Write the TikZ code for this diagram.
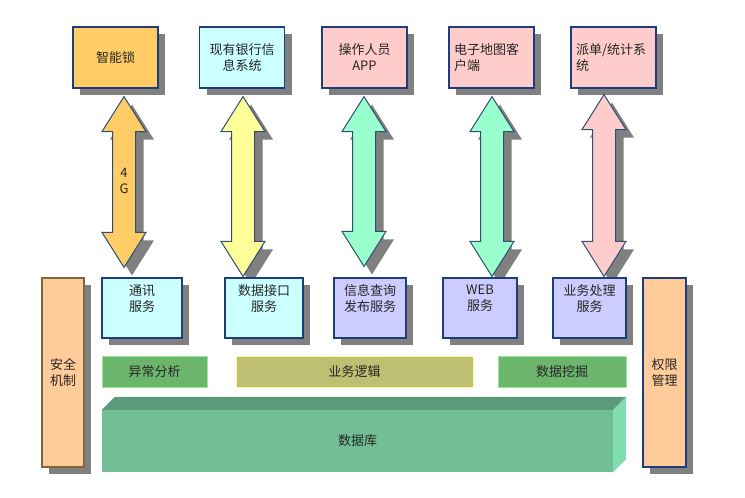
\documentclass[tikz,border=0pt]{standalone}
\usepackage{fontspec}
\newfontfamily\cjkfont{Noto Sans CJK SC}
\usepackage{tikz}
\usetikzlibrary{positioning,calc,shadows}

\definecolor{lockc}{HTML}{FFCC66}
\definecolor{cyanc}{HTML}{CCFFFF}
\definecolor{pinkc}{HTML}{FFCCCC}
\definecolor{yelc}{HTML}{FFFF99}
\definecolor{mintc}{HTML}{99FFCC}
\definecolor{lavc}{HTML}{CCCCFF}
\definecolor{peachc}{HTML}{FFCC99}
\definecolor{greenc}{HTML}{6CB56C}
\definecolor{greenedge}{HTML}{9AE69A}
\definecolor{olivec}{HTML}{BFBF73}
\definecolor{oliveedge}{HTML}{FFFF99}
\definecolor{dbfrontc}{HTML}{72BF96}
\definecolor{dbtopc}{HTML}{5C9A7C}
\definecolor{dbsidec}{HTML}{80DEB0}
\definecolor{edgeblue}{HTML}{1F3D7A}
\definecolor{arrowedge}{HTML}{2E4E73}
\definecolor{brownedge}{HTML}{7A6A35}
\definecolor{shadowc}{HTML}{808080}

% double arrow between two points on one vertical
\newcommand{\bigarrow}[3]{%
  \draw[bigarr, fill=#3] (#1) -- ($(#1)+(22,35)$) -- ($(#1)+(11.5,35)$)
    -- ($(#2)+(11.5,-35)$) -- ($(#2)+(22,-35)$) -- (#2)
    -- ($(#2)+(-22,-35)$) -- ($(#2)+(-11.5,-35)$)
    -- ($(#1)+(-11.5,35)$) -- ($(#1)+(-22,35)$) -- cycle;}

\begin{document}
\begin{tikzpicture}[x=1pt, y=-1pt,
    txt/.style={font=\cjkfont\fontsize{13}{16}\selectfont, text=black!85},
    shad/.style={drop shadow={shadow xshift=7pt, shadow yshift=-7pt,
                 opacity=1, fill=shadowc}},
    box/.style={txt, shad, draw=edgeblue, line width=1.2pt, fill=#1,
                text width=75pt, inner sep=5pt, minimum height=61pt, align=center},
    svc/.style={shad, draw=edgeblue, line width=1.2pt, fill=#1, minimum height=60pt},
    svctxt/.style={txt, align=center, inner sep=0pt},
    pillar/.style={txt, shad, line width=1.2pt, fill=peachc, minimum width=42pt,
                   minimum height=189pt, align=center},
    bar/.style={txt, fill=#1, minimum height=31pt, line width=1pt},
    bigarr/.style={draw=arrowedge, line width=1pt, line join=miter,
                   drop shadow={shadow xshift=8pt, shadow yshift=-8pt,
                   opacity=1, fill=shadowc}},
  ]
  \useasboundingbox (0,0) rectangle (745,498);

  % client systems
  \node[box=lockc] (lock) at (115.5,57.5) {智能锁};
  \node[box=cyanc] (bank) at (242,57.5) {现有银行信\\息系统};
  \node[box=pinkc] (app) at (364.5,57.5) {操作人员\\APP};
  \node[box=pinkc, align=left] (map) at (491.5,57.5) {电子地图客\\户端};
  \node[box=pinkc, align=left] (dispatch) at (613.5,57.5) {派单/统计系\\统};

  % service layer boxes
  \node[svc=cyanc, minimum width=80pt] (comm) at (142,308) {};
  \node[svc=cyanc, minimum width=78pt] (dataif) at (264,308) {};
  \node[svc=lavc, minimum width=72pt] (query) at (370,308) {};
  \node[svc=lavc, minimum width=74pt] (web) at (480,308) {};
  \node[svc=lavc, minimum width=73pt] (biz) at (589.5,308) {};

  % arrow end points
  \coordinate (a1t) at ($(lock.south)+(8.5,8)$);
  \coordinate (a1b) at ($(comm.north)+(-18,-10)$);
  \coordinate (a2t) at ($(bank.south)+(1,8)$);
  \coordinate (a2b) at ($(dataif.north)+(-21,-1)$);
  \coordinate (a3t) at ($(app.south)+(-0.5,8)$);
  \coordinate (a3b) at ($(query.north)+(-6,-11)$);
  \coordinate (a4t) at ($(map.south)+(0.5,8)$);
  \coordinate (a4b) at ($(web.north)+(12,-1)$);
  \coordinate (a5t) at ($(dispatch.south)+(-9.5,6)$);
  \coordinate (a5b) at ($(biz.north)+(14.5,-1)$);

  \bigarrow{a1t}{a1b}{lockc}
  \bigarrow{a2t}{a2b}{yelc}
  \bigarrow{a3t}{a3b}{mintc}
  \bigarrow{a4t}{a4b}{mintc}
  \bigarrow{a5t}{a5b}{pinkc}
  \node[txt, align=center, inner sep=0pt] (g4) at (124,181) {4\\G};

  % redraw service boxes over arrow shadows
  \node[svc=cyanc, minimum width=80pt] (comm) at (142,308) {};
  \node[svc=cyanc, minimum width=78pt] (dataif) at (264,308) {};
  \node[svc=lavc, minimum width=72pt] (query) at (370,308) {};
  \node[svc=lavc, minimum width=74pt] (web) at (480,308) {};
  \node[svc=lavc, minimum width=73pt] (biz) at (589.5,308) {};
  \node[svctxt, below=7pt of comm.north] (comm-t) {通讯\\服务};
  \node[svctxt, below=7pt of dataif.north] (dataif-t) {数据接口\\服务};
  \node[svctxt, below=7pt of query.north] (query-t) {信息查询\\发布服务};
  \node[svctxt, below=7pt of web.north] (web-t) {WEB\\服务};
  \node[svctxt, below=7pt of biz.north] (biz-t) {业务处理\\服务};

  % side pillars
  \node[pillar, draw=brownedge] (safe) at (63,372.5) {安全\\机制};
  \node[pillar, draw=edgeblue, minimum width=43pt] (auth) at (664.5,372.5) {权限\\管理};

  % logic bars
  \node[bar=greenc, draw=greenedge, minimum width=105pt] (anom) at (154.5,371.5) {异常分析};
  \node[bar=olivec, draw=oliveedge, minimum width=237pt] (logic) at (354.5,371.5) {业务逻辑};
  \node[bar=greenc, draw=greenedge, minimum width=128pt] (mine) at (562,371.5) {数据挖掘};

  % database block
  \node[txt, fill=dbfrontc, minimum width=511pt, minimum height=62pt] (db) at (357.5,441) {数据库};
  \fill[dbtopc] (db.north west) -- ++(13,-13) -- ($(db.north east)+(13,-13)$)
    -- (db.north east) -- cycle;
  \fill[dbsidec] (db.north east) -- ++(13,-13) -- ($(db.south east)+(13,-13)$)
    -- (db.south east) -- cycle;
\end{tikzpicture}
\end{document}
